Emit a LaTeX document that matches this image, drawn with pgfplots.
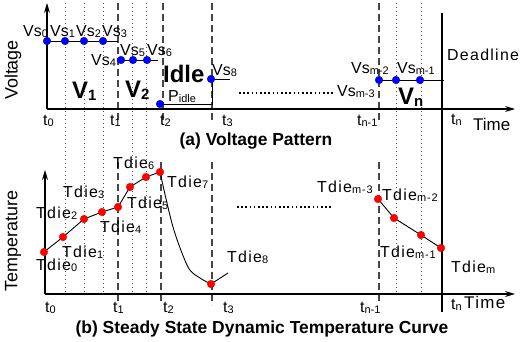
\documentclass[border=0pt]{standalone}
\usepackage{fontspec}
\setmainfont{Liberation Sans}
\newfontfamily\spaced[LetterSpace=8]{Liberation Sans}
\usepackage{pgfplots}
\pgfplotsset{compat=1.18}
\usetikzlibrary{arrows.meta}
\definecolor{dashgray}{RGB}{70,70,70}
\definecolor{dotgray}{RGB}{80,80,80}
\newcommand{\fs}[1]{\fontsize{#1}{#1}\selectfont}
\newcommand{\lb}[2]{{\fs{16}#1}\raisebox{-1.5bp}{\fs{11}#2}}
\newcommand{\tl}[2]{{\fs{16}\spaced #1}\raisebox{-1.5bp}{\fs{11}\spaced #2}}
\newcommand{\biglb}[2]{{\fs{24}\bfseries #1}\raisebox{-2.5bp}{\fs{15}\bfseries #2}}
\begin{document}
\begin{tikzpicture}
\begin{axis}[scale only axis, width=520bp, height=341bp,
  xmin=0, xmax=520, ymin=0, ymax=341, y dir=reverse,
  hide axis, clip=false]
% dotted verticals
\pgfplotsinvokeforeach{65,84,103,132,146,396,421}{
  \addplot[dotgray, line width=0.8bp, dash pattern=on 1bp off 3bp] coordinates {(#1,3) (#1,293)};
}
% dashed verticals, upper panel
\pgfplotsinvokeforeach{118,163,212,379}{
  \addplot[dashgray, line width=1.3bp, dash pattern=on 7bp off 4bp] coordinates {(#1,3) (#1,122)};
}
% dashed verticals, lower panel
\pgfplotsinvokeforeach{118,161,212,379}{
  \addplot[dashgray, line width=1.3bp, dash pattern=on 7bp off 4bp] coordinates {(#1,162) (#1,305)};
}
% deadline
\addplot[black, line width=2.5bp] coordinates {(442,13) (442,312)};
% axes
\addplot[black, line width=1.2bp, -{Stealth[length=10bp,width=6bp]}] coordinates {(47,109) (47,3)};
\addplot[black, line width=1.2bp, -{Stealth[length=10bp,width=6bp]}] coordinates {(47,109) (515,109)};
\addplot[black, line width=1.2bp, -{Stealth[length=10bp,width=6bp]}] coordinates {(45,294) (45,170)};
\addplot[black, line width=1.2bp, -{Stealth[length=10bp,width=6bp]}] coordinates {(45,294) (515,294)};
% voltage levels
\addplot[black, line width=1bp] coordinates {(47,41) (118,41)};
\addplot[black, line width=1bp] coordinates {(121,60) (158,60)};
\addplot[black, line width=1bp] coordinates {(160,104) (212,104) (212,79) (230,79)};
\addplot[black, line width=1bp] coordinates {(379,80) (444,80)};
% dotted continuation
\addplot[black, line width=1.6bp, dash pattern=on 1.6bp off 2.6bp] coordinates {(239,93) (335,93)};
\addplot[black, line width=1.6bp, dash pattern=on 1.6bp off 2.6bp] coordinates {(237,207) (333,207)};
% voltage points
\addplot[only marks, mark=*, mark size=3.8bp, color=blue] coordinates {
 (47,41) (65,41) (84,41) (103,41) (121,60) (133,60) (147,60) (160,104) (211,79) (379,80) (396,80) (420,80)};
% temperature curve
\addplot[black, line width=0.9bp] coordinates {(44,252) (63,237) (84,219) (102,212) (118,207) (130,187) (146,177) (160,172)};
\addplot[black, line width=0.9bp, smooth] coordinates {(160,172) (173,227) (188,267) (200,278) (211,284)};
\addplot[black, line width=0.9bp] coordinates {(211,284) (228,273)};
\addplot[black, line width=0.9bp] coordinates {(378,199) (394,218) (421,235) (441,248)};
\addplot[only marks, mark=*, mark size=3.8bp, color=red] coordinates {
 (44,252) (63,237) (84,219) (102,212) (118,207) (130,187) (146,177) (160,172) (211,284) (378,199) (394,218) (421,235) (441,248)};

% ---------- labels, upper panel
\node[anchor=base west, inner sep=0] at (axis cs:23,36) {\lb{Vs}{0}};
\node[anchor=base west, inner sep=0] at (axis cs:50,36) {\lb{Vs}{1}};
\node[anchor=base west, inner sep=0] at (axis cs:76,36) {\lb{Vs}{2}};
\node[anchor=base west, inner sep=0] at (axis cs:102,36) {\lb{Vs}{3}};
\node[anchor=base west, inner sep=0] at (axis cs:91,65) {\lb{Vs}{4}};
\node[anchor=base west, inner sep=0] at (axis cs:120,55) {\lb{Vs}{5}};
\node[anchor=base west, inner sep=0] at (axis cs:147,55) {\lb{Vs}{6}};
\node[anchor=base west, inner sep=0] at (axis cs:212,75) {\lb{Vs}{8}};
\node[anchor=base west, inner sep=0] at (axis cs:337,96) {\lb{Vs}{m-3}};
\node[anchor=base west, inner sep=0] at (axis cs:351,73) {\lb{Vs}{m-2}};
\node[anchor=base west, inner sep=0] at (axis cs:397,73) {\lb{Vs}{m-1}};
\node[anchor=base west, inner sep=0] at (axis cs:72,98) {\biglb{V}{1}};
\node[anchor=base west, inner sep=0] at (axis cs:125,97) {\biglb{V}{2}};
\node[anchor=base west, inner sep=0] at (axis cs:398,104) {\biglb{V}{n}};
\node[anchor=base west, inner sep=0] at (axis cs:163,82) {\fs{24}\bfseries Idle};
\node[anchor=base west, inner sep=0] at (axis cs:168,101) {\lb{P}{idle}};
\node[anchor=base west, inner sep=0] at (axis cs:447,60) {\fs{16}\spaced Deadline};
\node[rotate=90, inner sep=0] at (axis cs:13,70) {\fs{18}Voltage};
\node[anchor=base west, inner sep=0] at (axis cs:43,125) {\lb{t}{0}};
\node[anchor=base west, inner sep=0] at (axis cs:110,125) {\lb{t}{1}};
\node[anchor=base west, inner sep=0] at (axis cs:160,125) {\lb{t}{2}};
\node[anchor=base west, inner sep=0] at (axis cs:222,125) {\lb{t}{3}};
\node[anchor=base west, inner sep=0] at (axis cs:357,125) {\lb{t}{n-1}};
\node[anchor=base west, inner sep=0] at (axis cs:451,124) {\lb{t}{n}};
\node[anchor=base west, inner sep=0] at (axis cs:473,130) {\fs{17}Time};
\node[anchor=base, inner sep=0] at (axis cs:256,145) {\fs{17.5}\bfseries (a) Voltage Pattern};

% ---------- labels, lower panel
\node[anchor=base west, inner sep=0] at (axis cs:36,270) {\tl{Tdie}{0}};
\node[anchor=base west, inner sep=0] at (axis cs:62,257) {\tl{Tdie}{1}};
\node[anchor=base west, inner sep=0] at (axis cs:36,218) {\tl{Tdie}{2}};
\node[anchor=base west, inner sep=0] at (axis cs:63,197) {\tl{Tdie}{3}};
\node[anchor=base west, inner sep=0] at (axis cs:100,232) {\tl{Tdie}{4}};
\node[anchor=base west, inner sep=0] at (axis cs:127,208) {\tl{Tdie}{5}};
\node[anchor=base west, inner sep=0] at (axis cs:113,168) {\tl{Tdie}{6}};
\node[anchor=base west, inner sep=0] at (axis cs:167,187) {\tl{Tdie}{7}};
\node[anchor=base west, inner sep=0] at (axis cs:227,262) {\tl{Tdie}{8}};
\node[anchor=base west, inner sep=0] at (axis cs:317,192) {\tl{Tdie}{m-3}};
\node[anchor=base west, inner sep=0] at (axis cs:382,200) {\tl{Tdie}{m-2}};
\node[anchor=base west, inner sep=0] at (axis cs:380,257) {\tl{Tdie}{m-1}};
\node[anchor=base west, inner sep=0] at (axis cs:451,272) {\tl{Tdie}{m}};
\node[rotate=90, inner sep=0] at (axis cs:13,241) {\fs{18}Temperature};
\node[anchor=base west, inner sep=0] at (axis cs:45,312) {\lb{t}{0}};
\node[anchor=base west, inner sep=0] at (axis cs:113,312) {\lb{t}{1}};
\node[anchor=base west, inner sep=0] at (axis cs:163,312) {\lb{t}{2}};
\node[anchor=base west, inner sep=0] at (axis cs:223,312) {\lb{t}{3}};
\node[anchor=base west, inner sep=0] at (axis cs:360,312) {\lb{t}{n-1}};
\node[anchor=base west, inner sep=0] at (axis cs:451,309) {\lb{t}{n}};
\node[anchor=base west, inner sep=0] at (axis cs:464,308) {\fs{17}\spaced Time};
\node[anchor=base, inner sep=0] at (axis cs:262,333) {\fs{17.5}\bfseries (b) Steady State Dynamic Temperature Curve};
\end{axis}
\pgfresetboundingbox
\path (current axis.south west) rectangle (current axis.north east);
\end{tikzpicture}
\end{document}
